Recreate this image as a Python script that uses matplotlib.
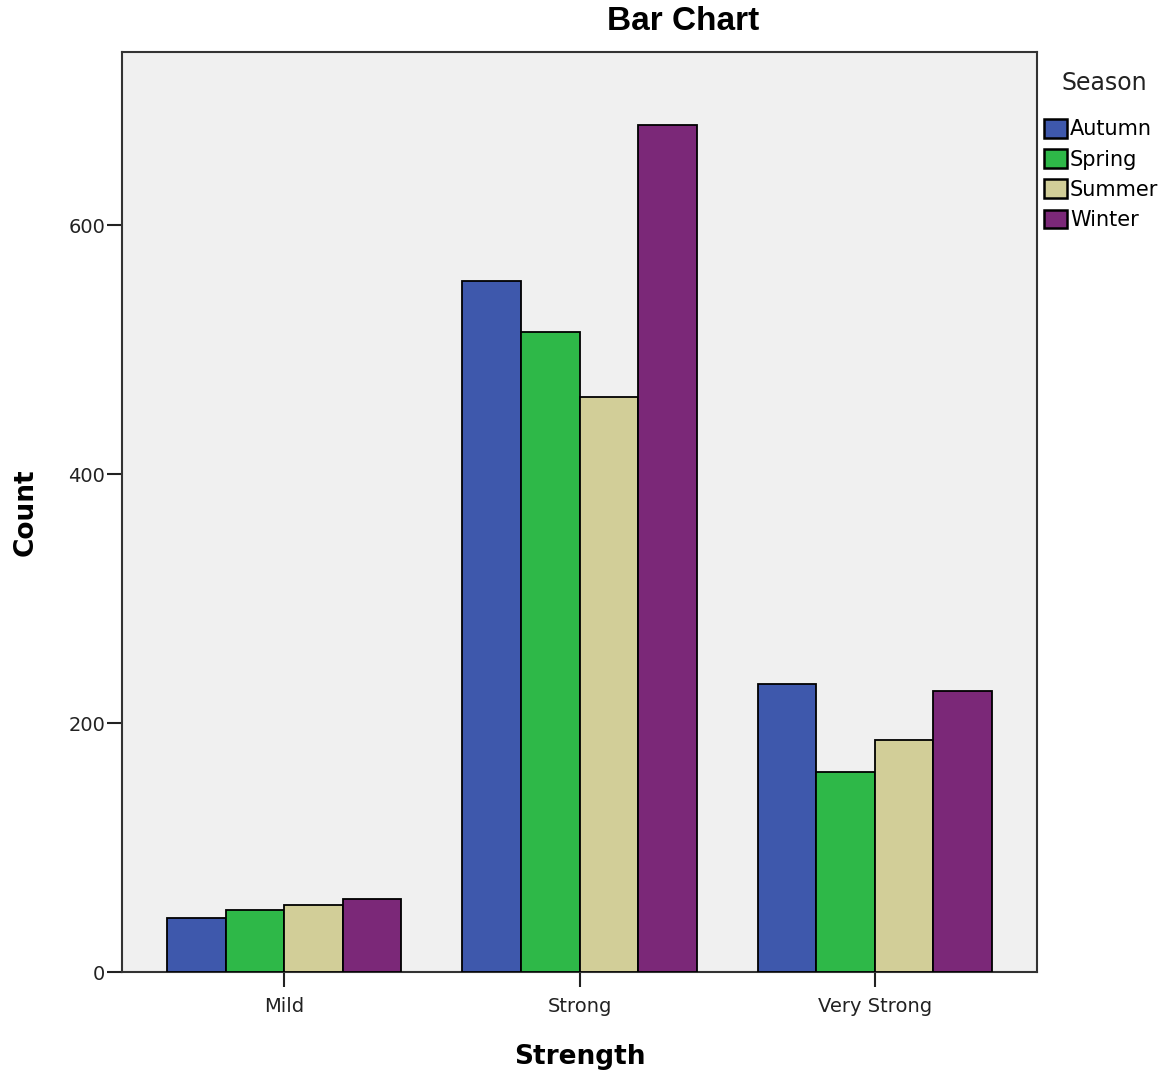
import matplotlib.pyplot as plt
import numpy as np

plt.rcParams['font.family'] = ['DejaVu Sans']

# données
categories = ['Mild', 'Strong', 'Very Strong']
seasons = ['Autumn', 'Spring', 'Summer', 'Winter']
autumn = [43, 555, 231]
spring = [50, 514, 161]
summer = [54, 462, 186]
winter = [59, 680, 226]
colors = ['#3E58AC', '#2EB848', '#D2CE98', '#7B2878']

series = [autumn, spring, summer, winter]

W, H = 1166, 1076
fig = plt.figure(figsize=(W / 100, H / 100), dpi=100)
ax = fig.add_axes([122/W, 1 - 972/H, (1037-122)/W, (972-52)/H])
ax.set_facecolor('#F0F0F0')

x = np.arange(len(categories))
width = 0.793 / 4

for i, (vals, c, name) in enumerate(zip(series, colors, seasons)):
    ax.bar(x + (i - 1.5) * width, vals, width, color=c, edgecolor='black',
           linewidth=1.3, label=name, zorder=3)

ax.set_xlim(-0.55, 2.55)
ax.set_ylim(0, 739)
ax.set_yticks([0, 200, 400, 600])
ax.set_xticks(x)
ax.set_xticklabels(categories)
ax.tick_params(axis='both', direction='out', length=11, width=1.5, labelsize=14,
               colors='#222222')
ax.tick_params(axis='y', pad=1)
ax.tick_params(axis='x', pad=7)
for s in ax.spines.values():
    s.set_color('#333333')
    s.set_linewidth(1.5)

# titres
fig.text(26/W, 1 - 512/H, 'Count', rotation=90, ha='center', va='center',
         fontsize=19, fontweight='bold')
fig.text(580/W, 1 - 1057/H, 'Strength', ha='center', va='center',
         fontsize=19, fontweight='bold')
fig.text(683/W, 1 - 22/H, 'Bar Chart', ha='center', va='center',
         fontsize=24, fontweight='bold', family='Liberation Sans')

# légende
fig.text(1104/W, 1 - 83/H, 'Season', ha='center', va='center', fontsize=17,
         color='#222222')
leg = fig.legend(loc='upper left', bbox_to_anchor=(1044/W, 1 - 119/H),
                 frameon=False, fontsize=15,
                 handlelength=1.1, handleheight=1.0, handletextpad=0.15,
                 labelspacing=0.47, borderaxespad=0, borderpad=0)
for h in leg.legend_handles:
    h.set_linewidth(1.8)

plt.savefig('out.png', dpi=100)
